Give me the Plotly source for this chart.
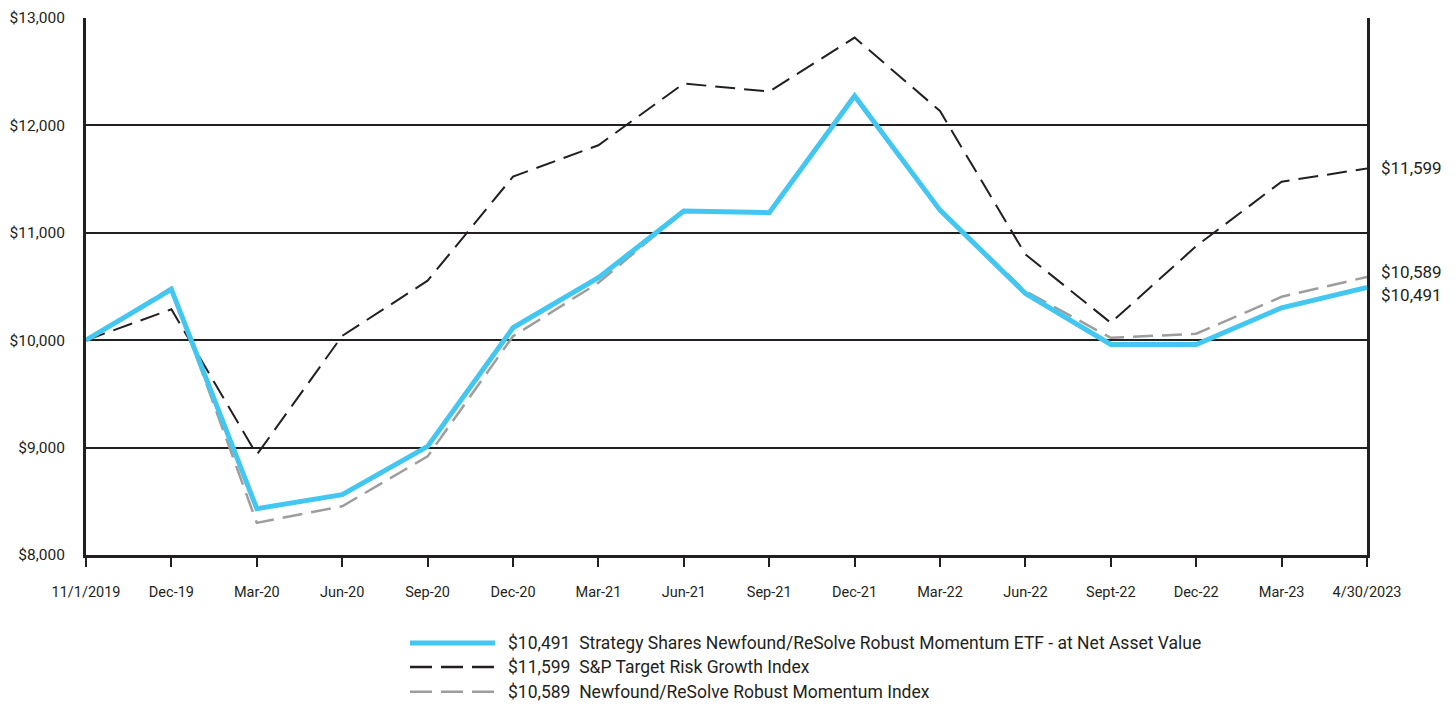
import plotly.graph_objects as go

categories = ["11/1/2019", "Dec-19", "Mar-20", "Jun-20", "Sep-20", "Dec-20", "Mar-21", "Jun-21",
              "Sep-21", "Dec-21", "Mar-22", "Jun-22", "Sept-22", "Dec-22", "Mar-23", "4/30/2023"]

fund_nav = [10000, 10474, 8432, 8562, 9011, 10116, 10582, 11202, 11187, 12274, 11211, 10435, 9960, 9960, 10302, 10491]
sp_target = [10000, 10288, 8934, 10040, 10554, 11523, 11815, 12390, 12315, 12818, 12134, 10799, 10162, 10876, 11476, 11599]
nf_index = [10000, 10490, 8299, 8454, 8918, 10037, 10535, 11200, 11195, 12290, 11215, 10457, 10022, 10060, 10404, 10589]

legend_labels = [
    "$10,491  Strategy Shares Newfound/ReSolve Robust Momentum ETF - at Net Asset Value",
    "$11,599  S&P Target Risk Growth Index",
    "$10,589  Newfound/ReSolve Robust Momentum Index",
]
end_labels = ["$10,491", "$11,599", "$10,589"]

BLUE = "#43c7f1"
BLACK = "#231f20"
GRAY = "#9d9d9d"
FONT = "Roboto, sans-serif"
DASH = "20px,9px"

fig = go.Figure()
fig.add_trace(go.Scatter(x=categories, y=nf_index, mode="lines",
                         line=dict(color=GRAY, width=2.5, dash=DASH), name=legend_labels[2]))
fig.add_trace(go.Scatter(x=categories, y=sp_target, mode="lines",
                         line=dict(color=BLACK, width=2, dash=DASH), name=legend_labels[1]))
fig.add_trace(go.Scatter(x=categories, y=fund_nav, mode="lines",
                         line=dict(color=BLUE, width=5), name=legend_labels[0]))

# end-value labels on the right
series_end = [fund_nav[-1], sp_target[-1], nf_index[-1]]
offsets = [-8, 0, 5]
for lab, val, off in zip(end_labels, series_end, offsets):
    fig.add_annotation(x=1.0, xref="paper", y=val, yref="y", text=lab, showarrow=False,
                       xanchor="left", xshift=12, yshift=off,
                       font=dict(family=FONT, size=17, color=BLACK))

# custom legend (positions given in page pixels, converted to paper coords)
colors = [BLUE, BLACK, GRAY]
widths = [5, 2.5, 2.5]
dashes = ["solid", "22px,9px", "22px,9px"]
ys = [643, 667, 692]
plot_left, plot_right = 86, 1367
plot_top, plot_bot = 17.5, 555
for lab, c, w, d, ypx in zip(legend_labels, colors, widths, dashes, ys):
    yp = (plot_bot - ypx) / (plot_bot - plot_top)
    x0 = (410 - plot_left) / (plot_right - plot_left)
    x1 = (495 - plot_left) / (plot_right - plot_left)
    fig.add_shape(type="line", xref="paper", yref="paper", x0=x0, x1=x1, y0=yp, y1=yp,
                  line=dict(color=c, width=w, dash=d))
    fig.add_annotation(x=(506 - plot_left) / (plot_right - plot_left), xref="paper", y=yp, yref="paper",
                       text=lab, showarrow=False, xanchor="left", yanchor="middle",
                       font=dict(family=FONT, size=17.5, color=BLACK))

# page has an 8px body margin; size figure to fit the 1456x707 window
OFF = 8
W, H = 1456 - OFF, 707 - OFF
fig.update_layout(
    width=W, height=H,
    margin=dict(l=plot_left - OFF, r=OFF + W - plot_right, t=plot_top - OFF, b=OFF + H - plot_bot,
                autoexpand=False),
    paper_bgcolor="white", plot_bgcolor="white",
    showlegend=False,
    font=dict(family=FONT, color=BLACK, size=15),
)
fig.update_xaxes(type="category", range=[0, 15], showgrid=False, automargin=False,
                 showline=True, linecolor=BLACK, linewidth=3,
                 ticks="outside", ticklen=9, tickwidth=2, tickcolor=BLACK,
                 tickfont=dict(family=FONT, size=14.5, color=BLACK), ticklabelstandoff=13)
fig.update_yaxes(range=[8000, 13000], dtick=1000, tickformat="$,.0f", automargin=False,
                 showgrid=True, gridcolor=BLACK, gridwidth=2,
                 showline=True, linecolor=BLACK, linewidth=3, mirror=True,
                 ticks="", zeroline=False,
                 tickfont=dict(family=FONT, size=15.5, color=BLACK), ticklabelstandoff=15)

fig.write_html("out.html")
